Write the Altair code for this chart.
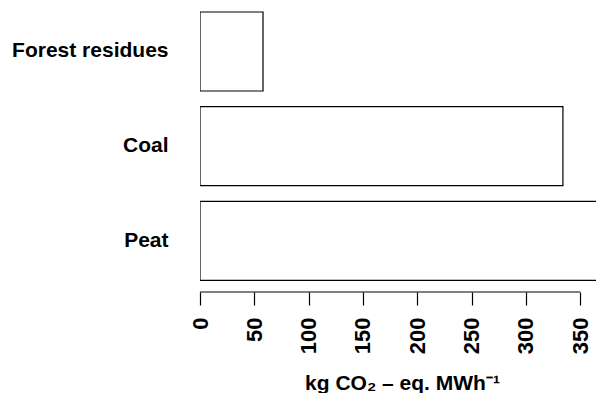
import altair as alt
import pandas as pd

categories = ["Forest residues", "Coal", "Peat"]
values = [58, 334, 390]
tick_values = [0, 50, 100, 150, 200, 250, 300, 350]

df = pd.DataFrame({"fuel": categories, "emission": values})
axis_df = pd.DataFrame({"start": [tick_values[0]], "end": [tick_values[-1]]})

FONT = "Liberation Sans"
H = 284
W = 396

bars = alt.Chart(df).mark_bar(
    fill="white", stroke="black", strokeWidth=1.2, clip=True
).encode(
    y=alt.Y(
        "fuel:N",
        sort=categories,
        scale=alt.Scale(paddingInner=0.166, paddingOuter=0.0824, align=0.256),
        axis=alt.Axis(
            title=None, ticks=False, domain=False, labelPadding=32,
            labelFont=FONT, labelFontSize=21, labelFontWeight="bold",
            labelColor="black",
        ),
    ),
    x=alt.X(
        "emission:Q",
        scale=alt.Scale(domain=[0, W / 1.08657], nice=False, zero=True),
        axis=alt.Axis(
            values=tick_values, labelAngle=270, tickSize=13, tickColor="black",
            tickWidth=1.2, domain=False, grid=False, labelPadding=12,
            labelFont=FONT, labelFontSize=22, labelFontWeight="bold",
            labelColor="black",
            title="kg CO₂ – eq. MWh⁻¹", titleFont=FONT, titleFontSize=21,
            titleFontWeight="bold", titleColor="black",
            titleBaseline="alphabetic", titleY=97, titleX=202, titleAnchor="middle",
        ),
    ),
)

axis_line = alt.Chart(axis_df).mark_rule(color="black", strokeWidth=1.2).encode(
    x="start:Q", x2="end:Q", y=alt.value(H)
)

chart = alt.layer(bars, axis_line).properties(
    width=W, height=H,
    autosize=alt.AutoSizeParams(type="none"),
    padding={"left": 192, "top": 0, "right": 0, "bottom": 101},
).configure_view(stroke=None)

chart.save("out.html", embed_options={"renderer": "svg", "actions": False})
